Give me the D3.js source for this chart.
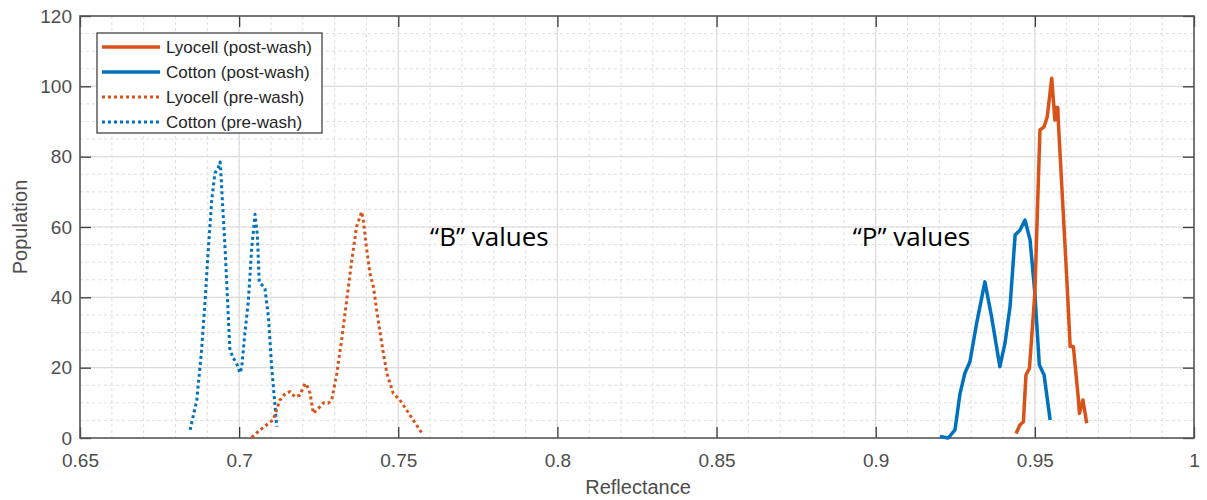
<!DOCTYPE html>
<html lang="en">

<head>
  <meta charset="utf-8">
  <title>Reflectance histogram</title>
  <script src="https://d3js.org/d3.v7.min.js"></script>
  <style>
    body {
      margin: 0;
      background: white;
    }

    .ticklabel {
      fill: #4d4d4d;
      font-family: "Liberation Sans", Arial, sans-serif;
      font-size: 19px;
    }

    .axislabel {
      fill: #4d4d4d;
      font-family: "Liberation Sans", Arial, sans-serif;
      font-size: 20px;
      text-anchor: middle;
    }

    .legendtext {
      fill: #262626;
      font-family: "Liberation Sans", Arial, sans-serif;
      font-size: 17px;
    }

    .note {
      fill: black;
      font-family: "Open Sans", "Noto Sans", sans-serif;
      font-size: 26px;
    }
  </style>
</head>

<body>
  <div id="chart"></div>

  <script>
    // axis ticks
    var xTicks = [0.65, 0.7, 0.75, 0.8, 0.85, 0.9, 0.95, 1];
    var yTicks = [0, 20, 40, 60, 80, 100, 120];

    // series
    var lyocellPostX = [0.9441, 0.9453, 0.9464, 0.9472, 0.9483, 0.9500, 0.9516, 0.9529, 0.9539, 0.9553,
      0.9563, 0.9565, 0.9572, 0.9574, 0.9600, 0.9611, 0.9621, 0.9637, 0.9640, 0.9651, 0.9663];
    var lyocellPostY = [1.3, 3.7, 4.6, 17.9, 19.8, 41.1, 87.6, 88.5, 91.4, 102.3,
      90.4, 94, 94, 89.5, 45.9, 26, 26, 10.8, 7, 10.8, 4.2];

    var cottonPostX = [0.9202, 0.9228, 0.9249, 0.9265, 0.9280, 0.9296, 0.9317, 0.9343, 0.9364, 0.9390,
      0.9406, 0.9422, 0.9438, 0.9453, 0.9469, 0.9485, 0.9500, 0.9514, 0.9529, 0.9548];
    var cottonPostY = [0.4, 0, 2.3, 12.7, 18.4, 21.7, 32.6, 44.4, 34.5, 20.3,
      26.9, 37.3, 57.7, 59.1, 62, 56.3, 41.1, 20.8, 17.9, 5.1];

    var lyocellPreX = [0.7039, 0.7066, 0.7097, 0.7107, 0.7128, 0.7144, 0.7160, 0.7175, 0.7191, 0.7207,
      0.7212, 0.7223, 0.7233, 0.7244, 0.7254, 0.7265, 0.7280, 0.7291, 0.7307, 0.7322,
      0.7338, 0.7354, 0.7369, 0.7385, 0.7390, 0.7401, 0.7411, 0.7422, 0.7432, 0.7448,
      0.7464, 0.7484, 0.7505, 0.7526, 0.7547, 0.7578];
    var lyocellPreY = [0.2, 2.3, 4.5, 5.1, 10.8, 12.5, 13.2, 11.7, 12.2, 15.5,
      15.1, 12.7, 7.0, 8, 8.9, 10, 9.9, 10.8, 18.4, 27.9,
      39.2, 50.6, 60.1, 64.3, 62, 53.5, 46.8, 43, 36.4, 26.9,
      18.4, 12.7, 10.8, 8.0, 5.1, 0.9];

    var cottonPreX = [0.6846, 0.6867, 0.6882, 0.6893, 0.6903, 0.6914, 0.6924, 0.6935, 0.6940, 0.6942,
      0.6950, 0.6956, 0.6966, 0.6971, 0.6982, 0.6992, 0.7003, 0.7008, 0.7018, 0.7029,
      0.7039, 0.7050, 0.7053, 0.7057, 0.7060, 0.7063, 0.7072, 0.7081, 0.7092, 0.7102,
      0.7113, 0.7118];
    var cottonPreY = [2.3, 10.8, 25, 39, 53.5, 67.7, 75.3, 77, 78.5, 76.5,
      63, 53.5, 34.5, 25, 22.7, 21.2, 18.5, 20, 29.8, 39,
      53.5, 63.6, 61, 58, 51.5, 44.4, 43.5, 42.5, 34.5, 20.3,
      8.9, 3.2];

    var seriesNames = ["Lyocell (post-wash)", "Cotton (post-wash)", "Lyocell (pre-wash)", "Cotton (pre-wash)"];
    var seriesColors = ["#D95319", "#0072BD", "#D95319", "#0072BD"];
    var seriesDotted = [false, false, true, true];
    var seriesX = [lyocellPostX, cottonPostX, lyocellPreX, cottonPreX];
    var seriesY = [lyocellPostY, cottonPostY, lyocellPreY, cottonPreY];

    var notes = ["\u201CB\u201D values", "\u201CP\u201D values"];
    var noteX = [0.7600, 0.8928];
    var noteY = [54.5, 54.5];

    var W = 1207, H = 500;
    var margin = {top: 16, right: 13, bottom: 62, left: 80},
      width = W - margin.left - margin.right,
      height = H - margin.top - margin.bottom;

    var svg = d3.select("#chart")
      .append("svg")
        .attr("width", W)
        .attr("height", H);

    svg.append("rect")
      .attr("width", W)
      .attr("height", H)
      .attr("fill", "white");

    var g = svg.append("g")
      .attr("transform", "translate(" + margin.left + "," + margin.top + ")");

    var x = d3.scaleLinear().domain([0.65, 1]).range([0, width]);
    var y = d3.scaleLinear().domain([0, 120]).range([height, 0]);

    // minor grid
    var xMinor = d3.range(66, 100).map(function(d) { return d / 100; });
    var yMinor = d3.range(5, 120, 5);

    g.selectAll(".xminor")
      .data(xMinor)
      .enter()
      .append("line")
        .attr("x1", function(d) { return x(d); })
        .attr("x2", function(d) { return x(d); })
        .attr("y1", 0)
        .attr("y2", height)
        .attr("stroke", "#dedede")
        .attr("stroke-dasharray", "3,3");

    g.selectAll(".yminor")
      .data(yMinor)
      .enter()
      .append("line")
        .attr("x1", 0)
        .attr("x2", width)
        .attr("y1", function(d) { return y(d); })
        .attr("y2", function(d) { return y(d); })
        .attr("stroke", "#dedede")
        .attr("stroke-dasharray", "3,3");

    // major grid
    g.selectAll(".xmajor")
      .data(xTicks.slice(1, -1))
      .enter()
      .append("line")
        .attr("x1", function(d) { return x(d); })
        .attr("x2", function(d) { return x(d); })
        .attr("y1", 0)
        .attr("y2", height)
        .attr("stroke", "#dcdcdc")
        .attr("stroke-width", 1.2);

    g.selectAll(".ymajor")
      .data(yTicks.slice(1, -1))
      .enter()
      .append("line")
        .attr("x1", 0)
        .attr("x2", width)
        .attr("y1", function(d) { return y(d); })
        .attr("y2", function(d) { return y(d); })
        .attr("stroke", "#dcdcdc")
        .attr("stroke-width", 1.2);

    // axes, ticks inward on all four sides
    var fmt = d3.format("~g");
    var tl = 11;

    g.append("g")
      .attr("transform", "translate(0," + height + ")")
      .call(d3.axisBottom(x).tickValues(xTicks).tickSize(-tl).tickPadding(16).tickFormat(fmt));
    g.append("g")
      .call(d3.axisTop(x).tickValues(xTicks).tickSize(-tl).tickFormat(""));
    g.append("g")
      .call(d3.axisLeft(y).tickValues(yTicks).tickSize(-tl).tickPadding(8).tickFormat(fmt));
    g.append("g")
      .attr("transform", "translate(" + width + ",0)")
      .call(d3.axisRight(y).tickValues(yTicks).tickSize(-tl).tickFormat(""));

    g.selectAll(".domain").remove();
    g.selectAll(".tick line").attr("stroke", "#3a3a3a").attr("stroke-width", 1.3);
    g.selectAll(".tick text").attr("class", "ticklabel");

    g.append("rect")
      .attr("width", width)
      .attr("height", height)
      .attr("fill", "none")
      .attr("stroke", "#555")
      .attr("stroke-width", 1.6);

    // curves
    var line = d3.line()
      .x(function(d) { return x(d[0]); })
      .y(function(d) { return y(d[1]); });

    // draw pre-wash first so the solid curves sit on top
    [3, 2, 1, 0].forEach(function(i) {
      var pts = seriesX[i].map(function(v, k) { return [v, seriesY[i][k]]; });
      g.append("path")
        .datum(pts)
        .attr("fill", "none")
        .attr("stroke", seriesColors[i])
        .attr("stroke-width", seriesDotted[i] ? 3 : 3.5)
        .attr("stroke-dasharray", seriesDotted[i] ? "3,3" : null)
        .attr("stroke-linejoin", "round")
        .attr("d", line);
    });

    // notes
    g.selectAll(".note")
      .data(notes)
      .enter()
      .append("text")
        .attr("class", "note")
        .attr("x", function(d, i) { return x(noteX[i]); })
        .attr("y", function(d, i) { return y(noteY[i]); })
        .text(function(d) { return d; });

    // axis labels
    svg.append("text")
      .attr("class", "axislabel")
      .attr("x", 638)
      .attr("y", 494)
      .text("Reflectance");

    svg.append("text")
      .attr("class", "axislabel")
      .attr("transform", "translate(27," + (margin.top + height / 2) + ") rotate(-90)")
      .text("Population");

    // legend
    var lg = svg.append("g").attr("transform", "translate(97,33)");
    lg.append("rect")
      .attr("width", 225)
      .attr("height", 100)
      .attr("fill", "white")
      .attr("stroke", "#333")
      .attr("stroke-width", 1.2);

    var row = lg.selectAll(".row")
      .data(seriesNames)
      .enter()
      .append("g")
        .attr("transform", function(d, i) { return "translate(0," + (14 + i * 25) + ")"; });

    row.append("line")
      .attr("x1", 5)
      .attr("x2", 63)
      .attr("stroke", function(d, i) { return seriesColors[i]; })
      .attr("stroke-width", function(d, i) { return seriesDotted[i] ? 3 : 3.5; })
      .attr("stroke-dasharray", function(d, i) { return seriesDotted[i] ? "3,3" : null; });

    row.append("text")
      .attr("class", "legendtext")
      .attr("x", 69)
      .attr("y", 6)
      .text(function(d) { return d; });
  </script>
</body>

</html>
